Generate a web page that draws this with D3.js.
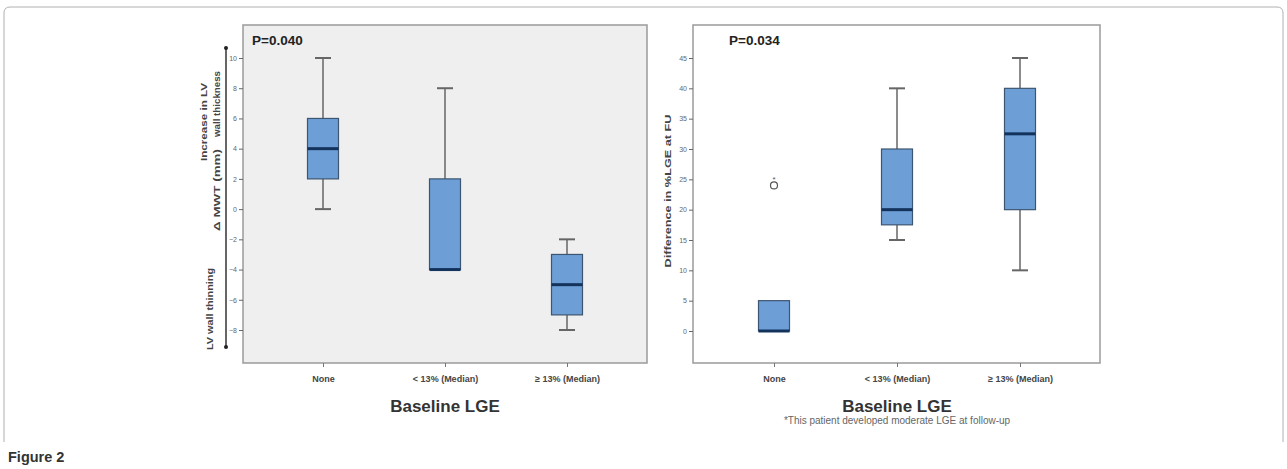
<!DOCTYPE html>
<html>
<head>
<meta charset="utf-8">
<script src="https://cdn.jsdelivr.net/npm/d3@7"></script>
<style>
  body { margin: 0; background: #fff; }
  svg text { font-family: "Liberation Sans", Arial, sans-serif; }
</style>
</head>
<body>
<svg id="fig" width="1287" height="469"></svg>
<script>
// Box plot data
const categories = ["None", "< 13% (Median)", "\u2265 13% (Median)"];

// Left panel: change in maximal wall thickness (mm)
const mwtMin = [0, -4, -8];
const mwtQ1 = [2, -4, -7];
const mwtMedian = [4, -4, -5];
const mwtQ3 = [6, 2, -3];
const mwtMax = [10, 8, -2];
const mwtTicks = [10, 8, 6, 4, 2, 0, -2, -4, -6, -8];

// Right panel: difference in %LGE at follow-up
const lgeMin = [0, 15, 10];
const lgeQ1 = [0, 17.5, 20];
const lgeMedian = [0, 20, 32.5];
const lgeQ3 = [5, 30, 40];
const lgeMax = [5, 40, 45];
const lgeOutlierCats = ["None"];
const lgeOutlierValues = [24];
const lgeTicks = [45, 40, 35, 30, 25, 20, 15, 10, 5, 0];

const svg = d3.select("#fig");

// figure frame (open at the bottom)
svg.append("path")
    .attr("d", "M4,442 L4,13 Q4,7 10,7 L1277,7 Q1283,7 1283,13 L1283,442")
    .attr("fill", "none")
    .attr("stroke", "#b0b0b0")
    .attr("stroke-width", 1);

svg.append("text")
    .attr("x", 8)
    .attr("y", 462)
    .attr("font-size", 14.5)
    .attr("font-weight", "bold")
    .attr("fill", "#333")
    .text("Figure 2");

const boxColor = "#6d9fd6";
const medianColor = "#13335c";
const boxWidth = 31;

function drawPanel(cfg) {
    const g = svg.append("g");

    // plot area
    g.append("rect")
        .attr("x", cfg.left)
        .attr("y", cfg.top)
        .attr("width", cfg.right - cfg.left)
        .attr("height", cfg.bottom - cfg.top)
        .attr("fill", cfg.bg)
        .attr("stroke", "#9a9a9a")
        .attr("stroke-width", 1.5);

    const x = d3.scalePoint().domain(categories).range(cfg.xRange);
    const y = d3.scaleLinear().domain(cfg.yDomain).range(cfg.yRange);

    // y axis
    const yAxis = d3.axisLeft(y).tickValues(cfg.ticks).tickSize(4).tickPadding(2);
    const ya = g.append("g")
        .attr("transform", `translate(${cfg.left},0)`)
        .call(yAxis);
    ya.select(".domain").remove();
    ya.selectAll("line").attr("stroke", "#666");
    ya.selectAll("text")
        .attr("font-size", 7)
        .attr("fill", "#666")
        .attr("font-family", "Liberation Sans, Arial, sans-serif");

    // x axis ticks and labels
    const xAxis = d3.axisBottom(x).tickSize(4).tickPadding(9);
    const xa = g.append("g")
        .attr("transform", `translate(0,${cfg.bottom})`)
        .call(xAxis);
    xa.select(".domain").remove();
    xa.selectAll("line").attr("stroke", "#777");
    xa.selectAll("text")
        .attr("font-size", 9)
        .attr("font-weight", "bold")
        .attr("fill", "#444")
        .attr("font-family", "Liberation Sans, Arial, sans-serif");

    // boxes
    categories.forEach((c, i) => {
        const cx = x(c);
        const bg = g.append("g");
        // whiskers
        if (cfg.max[i] > cfg.q3[i]) {
            bg.append("line")
                .attr("x1", cx).attr("x2", cx)
                .attr("y1", y(cfg.max[i])).attr("y2", y(cfg.q3[i]))
                .attr("stroke", "#666").attr("stroke-width", 1.5);
            bg.append("line")
                .attr("x1", cx - 8).attr("x2", cx + 8)
                .attr("y1", y(cfg.max[i])).attr("y2", y(cfg.max[i]))
                .attr("stroke", "#666").attr("stroke-width", 2);
        }
        if (cfg.min[i] < cfg.q1[i]) {
            bg.append("line")
                .attr("x1", cx).attr("x2", cx)
                .attr("y1", y(cfg.q1[i])).attr("y2", y(cfg.min[i]))
                .attr("stroke", "#666").attr("stroke-width", 1.5);
            bg.append("line")
                .attr("x1", cx - 8).attr("x2", cx + 8)
                .attr("y1", y(cfg.min[i])).attr("y2", y(cfg.min[i]))
                .attr("stroke", "#666").attr("stroke-width", 2);
        }
        bg.append("rect")
            .attr("x", cx - boxWidth / 2)
            .attr("y", y(cfg.q3[i]))
            .attr("width", boxWidth)
            .attr("height", y(cfg.q1[i]) - y(cfg.q3[i]))
            .attr("fill", boxColor)
            .attr("stroke", "#3d5570")
            .attr("stroke-width", 1.2);
        bg.append("line")
            .attr("x1", cx - boxWidth / 2).attr("x2", cx + boxWidth / 2)
            .attr("y1", y(cfg.median[i])).attr("y2", y(cfg.median[i]))
            .attr("stroke", medianColor).attr("stroke-width", 3);
    });

    // outliers
    (cfg.outCats || []).forEach((c, i) => {
        const cx = x(c), cy = y(cfg.outValues[i]);
        g.append("circle")
            .attr("cx", cx).attr("cy", cy).attr("r", 3.5)
            .attr("fill", "#fff").attr("stroke", "#555").attr("stroke-width", 1.2);
        g.append("text")
            .attr("x", cx).attr("y", cy - 3)
            .attr("text-anchor", "middle")
            .attr("font-size", 8)
            .attr("fill", "#555")
            .text("*");
    });

    // p value
    g.append("text")
        .attr("x", cfg.pX)
        .attr("y", cfg.top + 20)
        .attr("font-size", 13.5)
        .attr("font-weight", "bold")
        .attr("fill", "#222")
        .text(cfg.pText);

    // x axis title
    g.append("text")
        .attr("x", (cfg.xRange[0] + cfg.xRange[1]) / 2)
        .attr("y", 412)
        .attr("text-anchor", "middle")
        .attr("font-size", 17)
        .attr("font-weight", "bold")
        .attr("fill", "#333")
        .text("Baseline LGE");

    return { g, x, y };
}

// left panel
const left = drawPanel({
    left: 243, right: 647, top: 25, bottom: 363,
    bg: "#efefef",
    xRange: [323, 567],
    yDomain: [-8, 10], yRange: [330, 58],
    ticks: mwtTicks,
    min: mwtMin, q1: mwtQ1, median: mwtMedian, q3: mwtQ3, max: mwtMax,
    pX: 252, pText: "P=0.040"
});

// left panel y-axis annotation with double-ended arrow line
svg.append("line")
    .attr("x1", 226).attr("x2", 226)
    .attr("y1", 48).attr("y2", 347)
    .attr("stroke", "#333").attr("stroke-width", 1.5);
[48, 347].forEach(yy => {
    svg.append("circle").attr("cx", 226).attr("cy", yy).attr("r", 2).attr("fill", "#222");
});

// rotated label stretched to the span it takes in the figure
function vText(xx, yy, txt, size, len) {
    svg.append("text")
        .attr("transform", `translate(${xx},${yy}) rotate(-90)`)
        .attr("text-anchor", "middle")
        .attr("font-size", size)
        .attr("font-weight", "bold")
        .attr("fill", "#444")
        .attr("textLength", len)
        .attr("lengthAdjust", "spacingAndGlyphs")
        .text(txt);
}
vText(207, 122, "Increase in LV", 8.5, 78);
vText(220, 104, "wall thickness", 8.5, 66);
vText(220, 190, "\u0394 MWT (mm)", 8.5, 82);
vText(213, 309, "LV wall thinning", 8.5, 82);

// right panel
const right = drawPanel({
    left: 693, right: 1100, top: 25, bottom: 363,
    bg: "#ffffff",
    xRange: [774, 1020],
    yDomain: [0, 45], yRange: [331, 58],
    ticks: lgeTicks,
    min: lgeMin, q1: lgeQ1, median: lgeMedian, q3: lgeQ3, max: lgeMax,
    outCats: lgeOutlierCats, outValues: lgeOutlierValues,
    pX: 729, pText: "P=0.034"
});

vText(671, 191, "Difference in %LGE at FU", 9.5, 153);

svg.append("text")
    .attr("x", 897)
    .attr("y", 424)
    .attr("text-anchor", "middle")
    .attr("font-size", 10)
    .attr("fill", "#666")
    .text("*This patient developed moderate LGE at follow-up");
</script>
</body>
</html>
